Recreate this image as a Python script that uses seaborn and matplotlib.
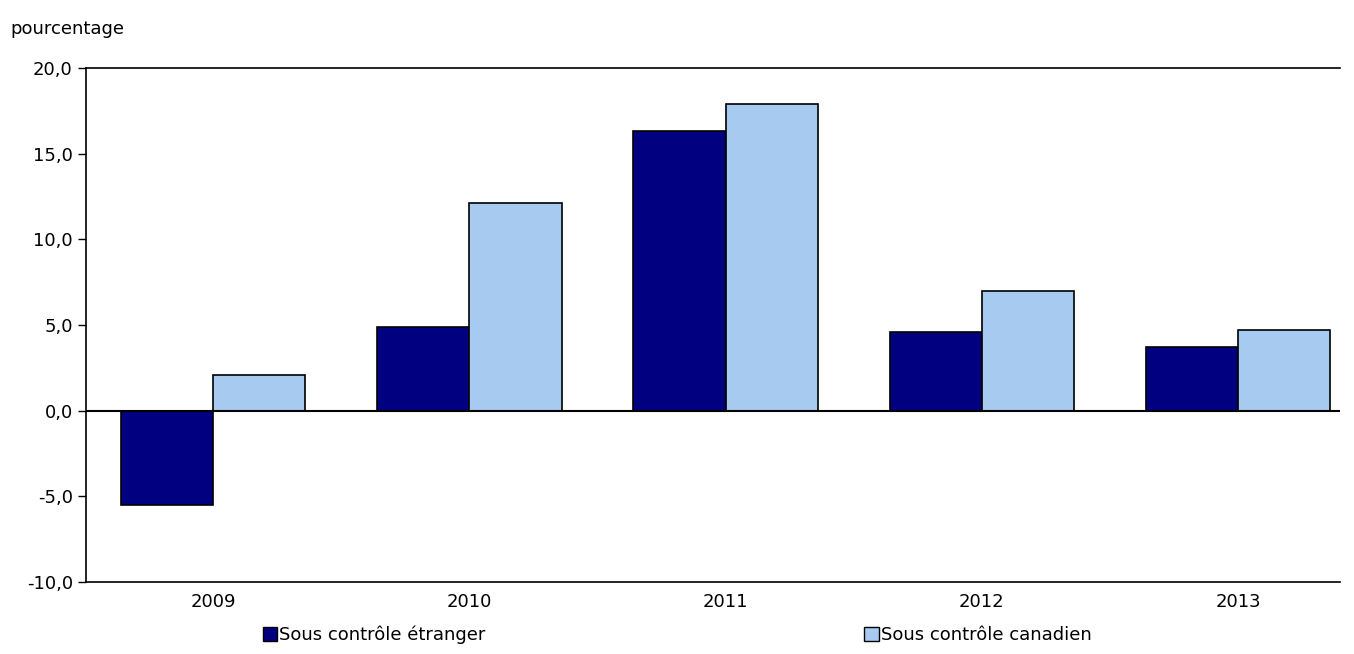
import matplotlib
matplotlib.use("Agg")
import matplotlib.pyplot as plt
import pandas as pd
import seaborn as sns
from matplotlib.patches import Patch

years = ["2009", "2010", "2011", "2012", "2013"]
foreign = [-5.5, 4.9, 16.3, 4.6, 3.7]
canadian = [2.1, 12.1, 17.9, 7.0, 4.7]
series = ["Sous contrôle étranger", "Sous contrôle canadien"]
colors = ["#000080", "#a6caf0"]

df = pd.DataFrame({
    "Année": years * 2,
    "Valeur": foreign + canadian,
    "Série": [series[0]] * 5 + [series[1]] * 5,
})

sns.set_style("white")
plt.rcParams["font.family"] = ["DejaVu Sans"]
plt.rcParams["text.color"] = "black"
plt.rcParams["xtick.color"] = "black"
plt.rcParams["ytick.color"] = "black"

fig = plt.figure(figsize=(13.54, 6.54), dpi=100)
ax = fig.add_axes([0.0635, 0.110, 0.9265, 0.786])
sns.barplot(data=df, x="Année", y="Valeur", hue="Série", palette=colors, saturation=1,
            width=0.72, edgecolor="black", linewidth=1.2, ax=ax, legend=False)

ax.set_xlim(-0.496, 4.40)
ax.set_ylim(-10, 20)
ax.set_yticks([-10, -5, 0, 5, 10, 15, 20])
ax.set_yticklabels(["-10,0", "-5,0", "0,0", "5,0", "10,0", "15,0", "20,0"])
ax.axhline(0, color="black", linewidth=1.5)
ax.set_xlabel("")
ax.set_ylabel("")
ax.tick_params(axis="y", direction="out", length=6, width=1, labelsize=13, left=True)
ax.tick_params(axis="x", length=0, labelsize=13, pad=8)
for s in ["left", "bottom", "top"]:
    ax.spines[s].set_color("black")
    ax.spines[s].set_linewidth(1.2)
ax.spines["right"].set_visible(False)
fig.text(0.008, 0.955, "pourcentage", fontsize=13, ha="left", va="center")

handles = [Patch(facecolor=c, edgecolor="black") for c in colors]
fig.legend(handles, series, loc="lower center", bbox_to_anchor=(0.5, -0.01), ncol=2,
           frameon=False, fontsize=13, handlelength=0.8, handleheight=0.8,
           handletextpad=0.1, columnspacing=21)

fig.savefig("out.png", dpi=100)
